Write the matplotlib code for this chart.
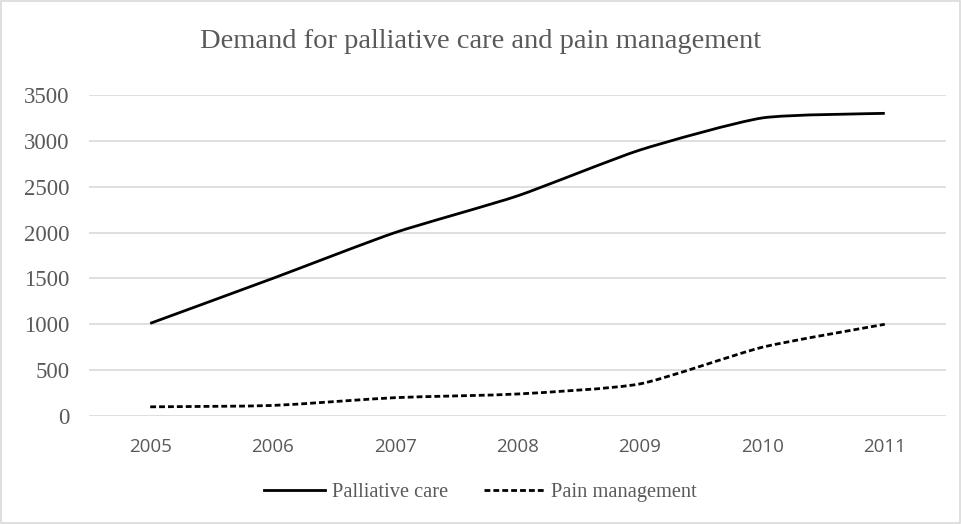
import matplotlib
matplotlib.use("Agg")
import matplotlib.pyplot as plt
from matplotlib.patches import Rectangle, PathPatch
from matplotlib.path import Path
from matplotlib.lines import Line2D

years = ["2005", "2006", "2007", "2008", "2009", "2010", "2011"]
palliative = [1010, 1500, 2000, 2400, 2900, 3250, 3300]
pain = [100, 115, 200, 240, 350, 750, 1000]
yticks = [0, 500, 1000, 1500, 2000, 2500, 3000, 3500]


def smooth_path(xs, ys, k=0.1):
    """Mildly smoothed line: Catmull-Rom-like segments as cubic Beziers."""
    n = len(xs)
    verts = [(xs[0], ys[0])]
    codes = [Path.MOVETO]
    for i in range(n - 1):
        i0 = max(i - 1, 0)
        i3 = min(i + 2, n - 1)
        c1 = (xs[i] + (xs[i + 1] - xs[i0]) * k, ys[i] + (ys[i + 1] - ys[i0]) * k)
        c2 = (xs[i + 1] - (xs[i3] - xs[i]) * k, ys[i + 1] - (ys[i3] - ys[i]) * k)
        verts += [c1, c2, (xs[i + 1], ys[i + 1])]
        codes += [Path.CURVE4] * 3
    return Path(verts, codes)


fig = plt.figure(figsize=(9.61, 5.24), dpi=100)
ax = fig.add_axes([89/961, 1-416/524, (946-89)/961, (416-95)/524])

x = list(range(len(years)))
lw = 2.0
dash = (0, (2.1, 1.1))
ax.add_patch(PathPatch(smooth_path(x, palliative), fill=False, edgecolor="black",
                       lw=lw, capstyle="butt", joinstyle="round"))
ax.add_patch(PathPatch(smooth_path(x, pain), fill=False, edgecolor="black",
                       lw=lw, linestyle=dash, capstyle="butt"))

ax.set_xlim(-0.5, len(years) - 0.5)
ax.set_ylim(0, 3500)
ax.set_yticks(yticks)
ax.set_yticklabels([str(v) for v in yticks], family="Liberation Serif", fontsize=16.5, color="#595959")
ax.set_xticks(x)
ax.set_xticklabels(years, family="Open Sans", fontsize=13.5, color="#595959")
ax.tick_params(length=0)
ax.tick_params(axis="y", pad=14)
ax.tick_params(axis="x", pad=16)
ax.grid(axis="y", color="#d9d9d9", lw=1.2)
ax.set_axisbelow(True)
for s in ax.spines.values():
    s.set_visible(False)

fig.text(0.5, 1-41/524, "Demand for palliative care and pain management",
         ha="center", va="center", family="Liberation Serif", fontsize=20.5, color="#595959")

h1 = Line2D([], [], color="black", lw=lw)
h2 = Line2D([], [], color="black", lw=lw, linestyle=dash)
leg = fig.legend([h1, h2], ["Palliative care", "Pain management"], loc="center",
                 bbox_to_anchor=(0.5, 1-492/524), ncol=2, frameon=False,
                 prop={"family": "Liberation Serif", "size": 14.7}, handlelength=2.95,
                 handletextpad=0.35, columnspacing=1.75)
for t in leg.get_texts():
    t.set_color("#595959")

fig.add_artist(Rectangle((0.001, 0.001), 0.998, 0.997, transform=fig.transFigure,
                         fill=False, edgecolor="#d9d9d9", lw=1.2))

fig.savefig("out.png", dpi=100)
